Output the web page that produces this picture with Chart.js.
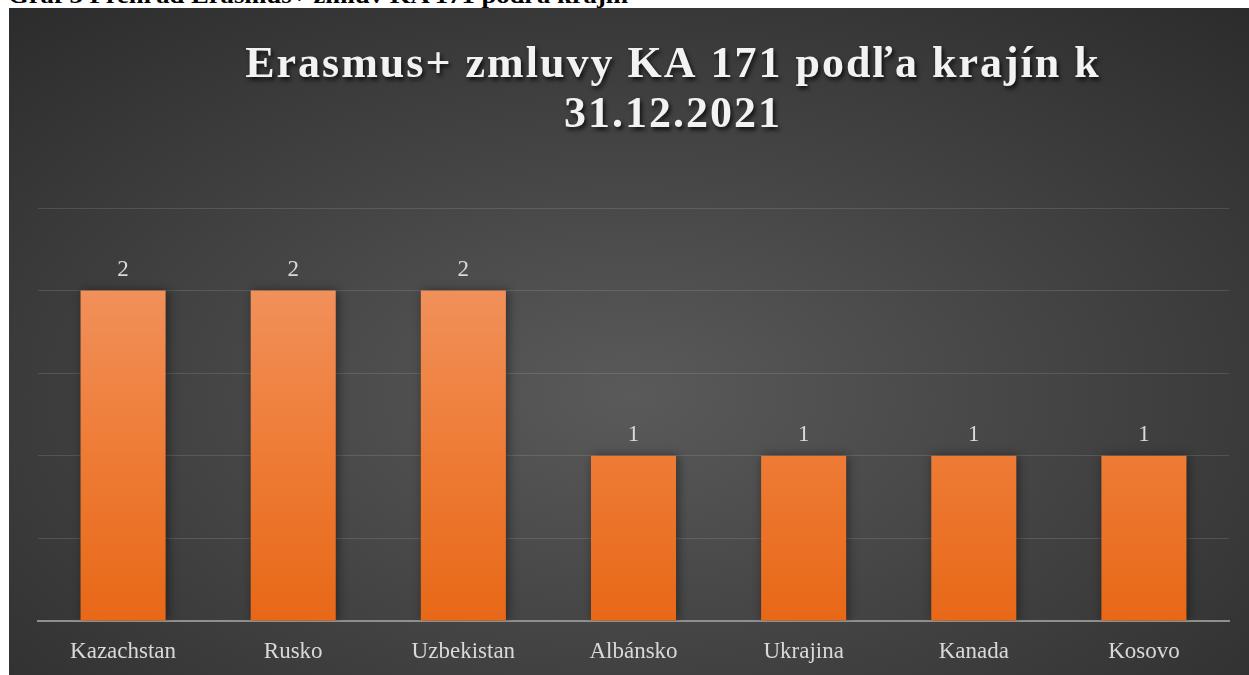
<!DOCTYPE html>
<html>
<head>
<meta charset="utf-8">
<script src="https://cdn.jsdelivr.net/npm/chart.js@4.4.0/dist/chart.umd.min.js"></script>
<style>
  html, body { margin: 0; padding: 0; background: #ffffff; width: 1249px; height: 675px; overflow: hidden; }
  #caption { position: absolute; left: 8px; top: -17px; font: bold 24px "Liberation Serif", "Times New Roman", serif; color: #000; white-space: nowrap; line-height: 24px; transform-origin: 0 0; }
  #box { position: absolute; left: 9px; top: 8px; width: 1240px; height: 667px;
         background: radial-gradient(ellipse 75% 80% at 50% 58%, #5a5a5a 0%, #474747 40%, #2b2b2b 100%); }
  canvas { display: block; }
</style>
</head>
<body>
<div id="caption">Graf 3 Prehľad Erasmus+ zmlúv KA 171 podľa krajín</div>
<div id="box"><canvas id="c" width="1240" height="667"></canvas></div>
<script>
const categories = ["Kazachstan", "Rusko", "Uzbekistan", "Albánsko", "Ukrajina", "Kanada", "Kosovo"];
const values = [2, 2, 2, 1, 1, 1, 1];
const titleLines = ["Erasmus+ zmluvy KA 171 podľa krajín k", "31.12.2021"];
const yMax = 2.5;
const yStep = 0.5;

(function(){
  const cap = document.getElementById('caption');
  const w = cap.getBoundingClientRect().width;
  cap.style.transform = 'scaleX(' + (620 / w) + ')';
})();

const titlePlugin = {
  id: 'titleDraw',
  afterDraw(chart) {
    const ctx = chart.ctx;
    ctx.save();
    ctx.font = 'bold 44px "Liberation Serif", "Times New Roman", serif';
    ctx.letterSpacing = '2px';
    ctx.fillStyle = '#f2f2f2';
    ctx.textAlign = 'center';
    ctx.textBaseline = 'alphabetic';
    ctx.shadowColor = 'rgba(0,0,0,0.75)';
    ctx.shadowBlur = 4;
    ctx.shadowOffsetX = 2;
    ctx.shadowOffsetY = 3;
    const cx = 664;
    ctx.fillText(titleLines[0], cx, 69);
    ctx.fillText(titleLines[1], cx, 119);
    ctx.restore();
  }
};

const labelPlugin = {
  id: 'valueLabels',
  afterDatasetsDraw(chart) {
    const ctx = chart.ctx;
    const meta = chart.getDatasetMeta(0);
    ctx.save();
    ctx.font = '23px "Liberation Serif", "Times New Roman", serif';
    ctx.fillStyle = '#d9d9d9';
    ctx.textAlign = 'center';
    ctx.textBaseline = 'middle';
    meta.data.forEach((bar, i) => {
      ctx.fillText(String(values[i]), bar.x, bar.y - 21);
    });
    ctx.restore();
  }
};

const shadowPlugin = {
  id: 'barShadow',
  beforeDatasetsDraw(chart) {
    const ctx = chart.ctx;
    ctx.save();
    ctx.shadowColor = 'rgba(0,0,0,0.45)';
    ctx.shadowBlur = 10;
    ctx.shadowOffsetX = 2;
    ctx.shadowOffsetY = 0;
  },
  afterDatasetsDraw(chart) {
    chart.ctx.restore();
  }
};

function barGradient(context) {
  const chart = context.chart;
  const area = chart.chartArea;
  if (!area) return '#ee7a33';
  const y = chart.scales.y;
  const top = y.getPixelForValue(2);
  const bottom = y.getPixelForValue(0);
  const g = chart.ctx.createLinearGradient(0, top, 0, bottom);
  g.addColorStop(0, '#f1905a');
  g.addColorStop(0.5, '#ee7b35');
  g.addColorStop(1, '#e76817');
  return g;
}

new Chart(document.getElementById('c'), {
  type: 'bar',
  data: {
    labels: categories,
    datasets: [{
      data: values,
      backgroundColor: barGradient,
      borderWidth: 0,
      categoryPercentage: 1.0,
      barPercentage: 0.5
    }]
  },
  options: {
    responsive: false,
    animation: false,
    events: [],
    layout: { padding: { left: 29, right: 20, top: 200, bottom: 0 } },
    plugins: { legend: { display: false }, tooltip: { enabled: false }, title: { display: false } },
    scales: {
      x: {
        grid: { display: false, drawTicks: false },
        border: { display: true, color: '#8f8f8f', width: 2 },
        ticks: { color: '#d9d9d9', font: { family: '"Liberation Serif", "Times New Roman", serif', size: 23 }, padding: 17, maxRotation: 0 },
        afterFit: s => { s.height = 54; }
      },
      y: {
        min: 0, max: yMax,
        ticks: { display: false, stepSize: yStep },
        grid: { color: 'rgba(255,255,255,0.12)', lineWidth: 1, drawTicks: false },
        border: { display: false }
      }
    }
  },
  plugins: [shadowPlugin, labelPlugin, titlePlugin]
});
</script>
</body>
</html>
